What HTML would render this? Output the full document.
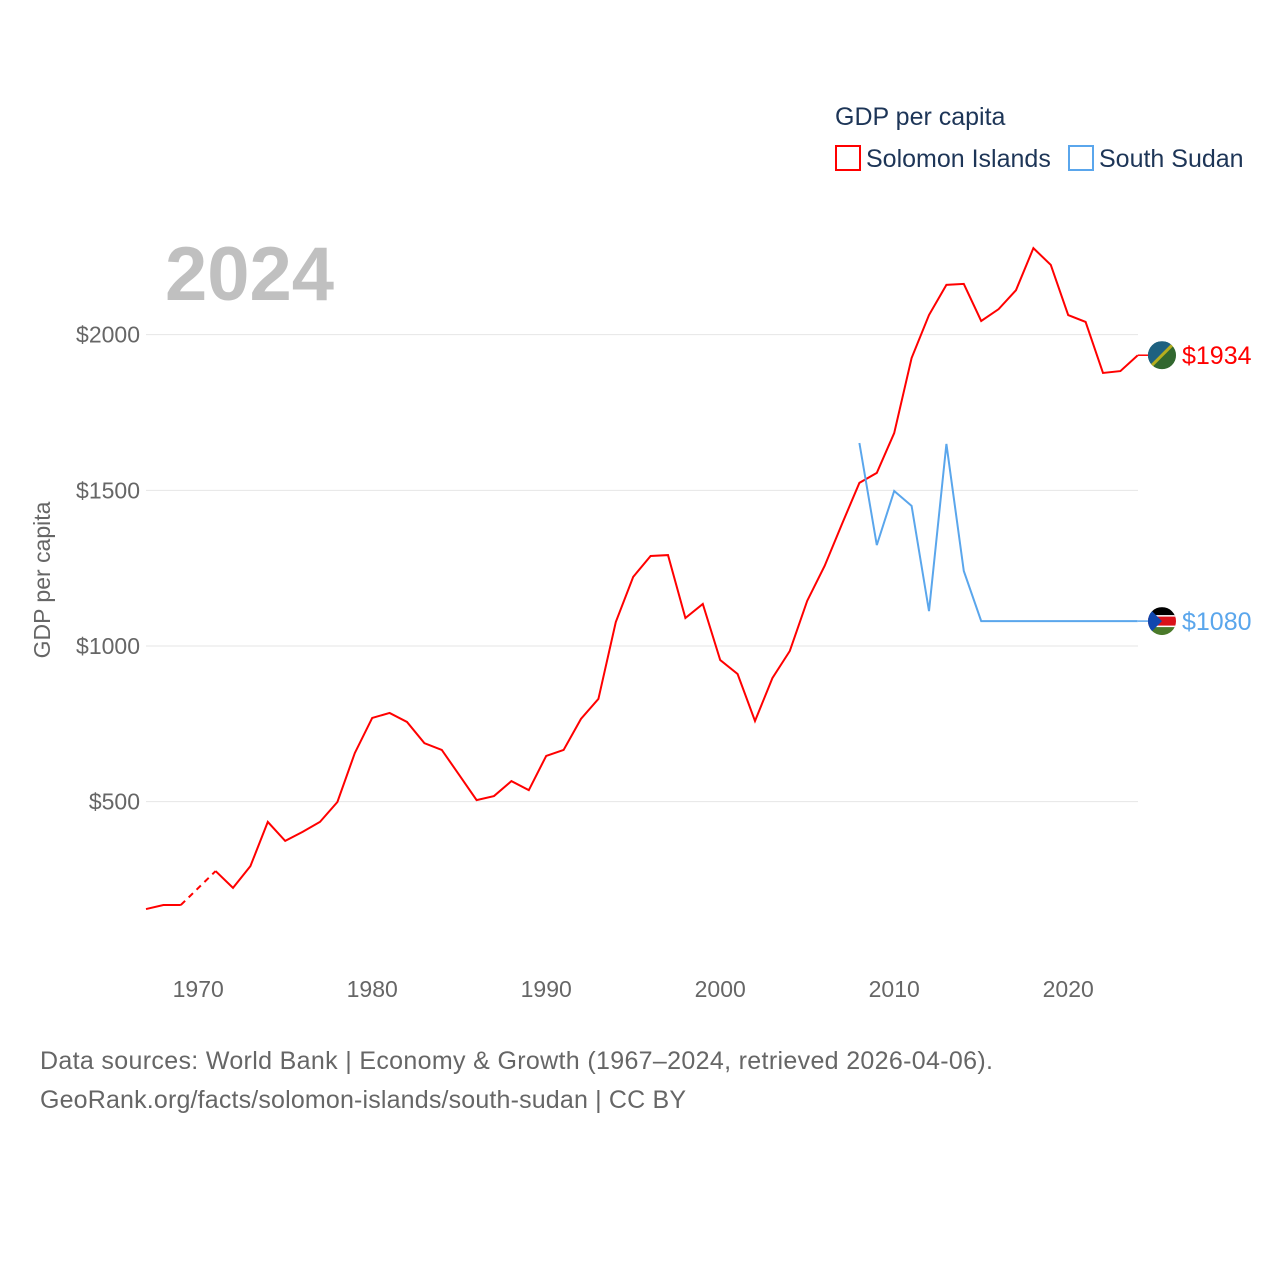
<!DOCTYPE html>
<html><head><meta charset="utf-8"><style>
body{margin:0;background:#fff;width:1280px;height:1280px;overflow:hidden;font-family:"Liberation Sans",sans-serif}
</style></head><body>
<svg width="1280" height="1280" id="chart" font-family="Liberation Sans, sans-serif">
<text x="835" y="125" font-size="25" fill="#1d3557">GDP per capita</text>
<g><rect x="836" y="146" width="24" height="24" fill="none" stroke="#ff0000" stroke-width="2"/><text x="866" y="167" font-size="25" fill="#1d3557">Solomon Islands</text></g>
<g><rect x="1069" y="146" width="24" height="24" fill="none" stroke="#5aa6ec" stroke-width="2"/><text x="1099" y="167" font-size="25" fill="#1d3557">South Sudan</text></g>
<text x="165" y="300" font-size="76" font-weight="bold" fill="#c0c0c0">2024</text>
<text transform="translate(50,580) rotate(-90)" text-anchor="middle" font-size="23" fill="#666">GDP per capita</text>
<g id="grid"></g><g id="xt"></g><g id="lines"></g>
<text x="40" y="1069" font-size="25" fill="#666" textLength="953">Data sources: World Bank | Economy &amp; Growth (1967–2024, retrieved 2026-04-06).</text>
<text x="40" y="1108" font-size="25" fill="#666" textLength="646">GeoRank.org/facts/solomon-islands/south-sudan | CC BY</text>
</svg>
<script>
const years=[];for(let y=1967;y<=2024;y++)years.push(y);
const solomon=[155,168,168,null,277,223,293,435,374,403,435,499,656,769,785,756,688,666,586,505,518,566,537,647,666,766,830,1077,1222,1289,1292,1090,1135,955,910,759,897,984,1145,1257,1392,1524,1556,1684,1925,2063,2160,2163,2044,2082,2143,2278,2224,2063,2041,1877,1883,1934];
const ssYears=[2008,2009,2010,2011,2012,2013,2014,2015,2016,2017,2018,2019,2020,2021,2022,2023,2024];
const sudan=[1652,1324,1498,1450,1112,1649,1241,1080,1080,1080,1080,1080,1080,1080,1080,1080,1080];
const yTicks=[500,1000,1500,2000];
const xTicks=[1970,1980,1990,2000,2010,2020];
const X=y=>146+(y-1967)*17.4, Y=v=>646-(v-1000)*0.31133;
const NS="http://www.w3.org/2000/svg";
function mk(t,a,p){const e=document.createElementNS(NS,t);for(const k in a)e.setAttribute(k,a[k]);p.appendChild(e);return e;}
const g=document.getElementById('grid');
yTicks.forEach(v=>{
 const l=mk('line',{x1:146,x2:1138,y1:Y(v),y2:Y(v),stroke:'#e6e6e6','stroke-width':1},g);
 
 
 const t=mk('text',{x:140,y:Y(v)+8,'text-anchor':'end','font-size':23,fill:'#666'},g);t.textContent='$'+v;
 
 
});
const xt=document.getElementById('xt');
xTicks.forEach(v=>{const t=mk('text',{x:X(v),y:997,'text-anchor':'middle','font-size':23,fill:'#666'},xt);t.textContent=v;
 
 });
const L=document.getElementById('lines');
let seg=[],prev=null;const segs=[],dashes=[];
years.forEach((y,i)=>{const v=solomon[i];
 if(v==null){if(seg.length)segs.push(seg);seg=[];return;}
 if(seg.length===0&&prev)dashes.push([prev,[X(y),Y(v)]]);
 seg.push([X(y),Y(v)]);prev=[X(y),Y(v)];});
if(seg.length)segs.push(seg);
segs.forEach(s=>{const p=mk('polyline',{points:s.map(q=>q.join(',')).join(' '),fill:'none',stroke:'#ff0000','stroke-width':2},L);
 
 });
dashes.forEach(d=>{const p=mk('line',{x1:d[0][0],y1:d[0][1],x2:d[1][0],y2:d[1][1],stroke:'#ff0000','stroke-width':2,'stroke-dasharray':'6,5'},L);
 
 });
const sp=mk('polyline',{points:ssYears.map((y,i)=>X(y)+','+Y(sudan[i])).join(' '),fill:'none',stroke:'#5aa6ec','stroke-width':2},L);


function endCap(v,col,name,kind){
 const y=Y(v);
 mk('line',{x1:1138,x2:1150,y1:y,y2:y,stroke:col,'stroke-width':1.5},L);
 const grp=mk('g',{},L);
 
 
 const cid='c'+name;const cp=mk('clipPath',{id:cid},grp);mk('circle',{cx:1162,cy:y,r:14},cp);
 const inner=mk('g',{'clip-path':'url(#'+cid+')'},grp);
 if(kind==='sb'){mk('rect',{x:1148,y:y-14,width:28,height:28,fill:'#215b33'},inner);
  mk('polygon',{points:`1148,${y-14} 1176,${y-14} 1148,${y+14}`,fill:'#0051ba'},inner);
  mk('line',{x1:1176,y1:y-14,x2:1148,y2:y+14,stroke:'#fcd116','stroke-width':3},inner);
  mk('rect',{x:1148,y:y-14,width:28,height:28,fill:'#4a7a2a',opacity:0.4},inner);}
 else{mk('rect',{x:1148,y:y-14,width:28,height:9,fill:'#000'},inner);mk('rect',{x:1148,y:y-5,width:28,height:10,fill:'#da121a'},inner);
  mk('rect',{x:1148,y:y+5,width:28,height:9,fill:'#4a7a2a'},inner);mk('rect',{x:1148,y:y-6,width:28,height:1.5,fill:'#fff'},inner);mk('rect',{x:1148,y:y+4.5,width:28,height:1.5,fill:'#fff'},inner);
  mk('polygon',{points:`1148,${y-14} 1162,${y} 1148,${y+14}`,fill:'#0f47af'},inner);}
 const t=mk('text',{x:1182,y:y+9,'font-size':25,fill:col},L);t.textContent='$'+v;
 
 
}
endCap(solomon[solomon.length-1],'#ff0000','solomon-islands','sb');
endCap(sudan[sudan.length-1],'#5aa6ec','south-sudan','ss');
</script>
</body></html>
